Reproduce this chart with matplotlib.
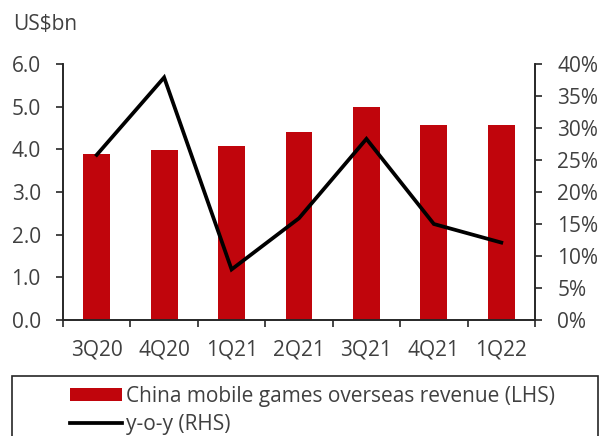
import matplotlib
matplotlib.use("Agg")
import matplotlib.pyplot as plt
from matplotlib.patches import Rectangle
from matplotlib.lines import Line2D
from matplotlib.ticker import FuncFormatter, FixedLocator
import numpy as np

plt.rcParams['font.family'] = ['Open Sans', 'DejaVu Sans']

quarters = ["3Q20", "4Q20", "1Q21", "2Q21", "3Q21", "4Q21", "1Q22"]
revenue = [3.88, 3.98, 4.07, 4.41, 5.00, 4.58, 4.56]      # US$bn
yoy = [25.8, 37.9, 7.9, 15.9, 28.3, 15.0, 12.1]            # %

BAR_RED = "#C0050C"
TEXT = "#404040"
AXIS = "#262626"
FS = 15
FS_LEG = 15

fig = plt.figure(figsize=(6.07, 4.36), dpi=100)
W, H = 607, 436
ax = fig.add_axes([63 / W, 1 - 320 / H, (535 - 63) / W, (320 - 64) / H])
ax2 = ax.twinx()

x = np.arange(len(quarters))
ax.bar(x, revenue, width=0.4, color=BAR_RED, zorder=2)
ax2.plot(x, yoy, color="black", lw=2.7, solid_joinstyle="miter", zorder=3)

ax.set_xlim(-0.5, len(quarters) - 0.5)
ax.set_ylim(0, 6)
ax2.set_ylim(0, 40)

ax.set_yticks(np.arange(0, 6.01, 1.0))
ax.yaxis.set_major_formatter(FuncFormatter(lambda v, p: f"{v:.1f}"))
ax2.set_yticks(np.arange(0, 40.1, 5))
ax2.yaxis.set_major_formatter(FuncFormatter(lambda v, p: f"{v:.0f}%"))

# category labels centred on the bars, tick marks on the boundaries
ax.xaxis.set_major_locator(FixedLocator(np.arange(-0.5, len(quarters), 1.0)))
ax.xaxis.set_major_formatter(FuncFormatter(lambda v, p: ""))
ax.xaxis.set_minor_locator(FixedLocator(x))
ax.set_xticklabels(quarters, minor=True)
ax.tick_params(axis="x", which="minor", length=0, pad=14, labelsize=FS, labelcolor=TEXT)
ax.tick_params(axis="x", which="major", length=5, width=1.2, color=AXIS, direction="out")

ax.tick_params(axis="y", length=5, width=1.2, color=AXIS, pad=11, labelsize=FS, labelcolor=TEXT)
ax2.tick_params(axis="y", length=5, width=1.2, color=AXIS, pad=11, labelsize=FS, labelcolor=TEXT)

for a in (ax, ax2):
    a.spines["top"].set_visible(False)
    for s in ("left", "right", "bottom"):
        a.spines[s].set_color(AXIS)
        a.spines[s].set_linewidth(1.2)

fig.text(13 / W, 1 - 24 / H, "US$bn", fontsize=FS, color=TEXT, va="center", ha="left")

# legend frame running off the bottom of the figure
fig.patches.append(Rectangle((12 / W, -0.05), (598 - 12) / W, 1 - 376 / H + 0.05,
                             transform=fig.transFigure, fill=False,
                             edgecolor=AXIS, linewidth=1.2))

handles = [Rectangle((0, 0), 1, 1, facecolor=BAR_RED, edgecolor="none"),
           Line2D([], [], color="black", lw=2.7)]
labels = ["China mobile games overseas revenue (LHS)", "y-o-y (RHS)"]
fig.legend(handles, labels, loc="upper left",
           bbox_to_anchor=(70 / W, 1 - 386 / H), frameon=False,
           fontsize=FS_LEG, labelcolor=TEXT, handlelength=2.5, handleheight=0.58,
           handletextpad=0.2, labelspacing=0.34, borderpad=0.0, borderaxespad=0.0)

fig.savefig("out.png", dpi=100)
